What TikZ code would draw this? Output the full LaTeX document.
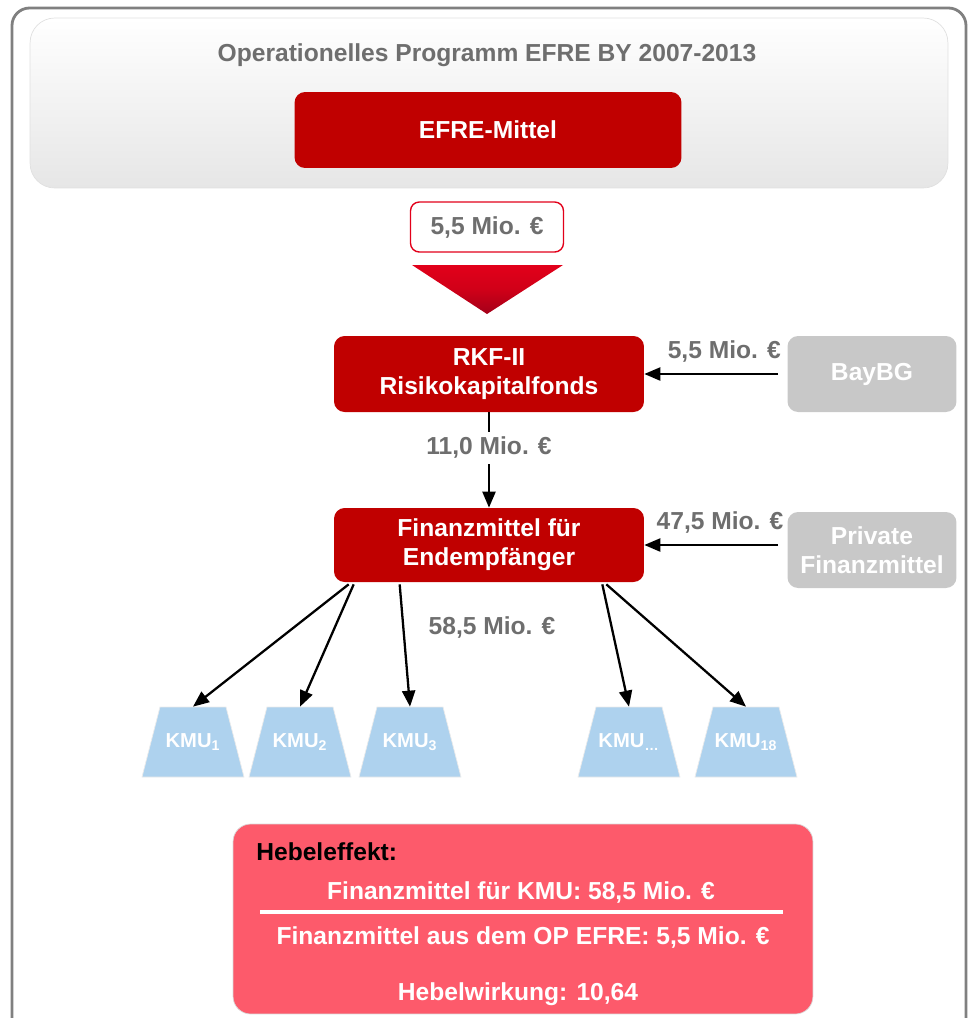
\documentclass[tikz,border=0pt]{standalone}
\usepackage{fontspec}
\setmainfont{Liberation Sans}
\usetikzlibrary{arrows.meta,calc,positioning}
\definecolor{efrered}{HTML}{C00000}
\definecolor{brightred}{HTML}{E2001A}
\definecolor{darkred}{HTML}{A30019}
\definecolor{txtgray}{HTML}{6E6E6E}
\definecolor{boxgray}{HTML}{C8C8C8}
\definecolor{framegray}{HTML}{808080}
\definecolor{panelgray}{HTML}{E6E6E6}
\definecolor{kmublue}{HTML}{AED2EE}
\definecolor{hebelred}{HTML}{FD5A6B}

\begin{document}
\begin{tikzpicture}[x=0.02cm,y=-0.02cm,
  bigfont/.style={font=\bfseries\fontsize{14}{16.5}\selectfont},
  redbox/.style={bigfont,fill=efrered,text=white,rounded corners=6pt,align=center,inner sep=0pt},
  graybox/.style={bigfont,fill=boxgray,text=white,rounded corners=6pt,align=center,inner sep=0pt},
  amount/.style={bigfont,text=txtgray,inner sep=1pt},
  kmushape/.style={fill=kmublue,draw=black!8},
  kmutext/.style={text=white,inner sep=0pt,font=\bfseries\fontsize{11.5}{13}\selectfont},
  arr/.style={-{Triangle[length=3.2mm,width=2.6mm]},line width=1.3pt},
  hebeltext/.style={font=\bfseries\fontsize{14}{16.5}\selectfont,text=white,inner sep=0pt}]
\useasboundingbox (0,0) rectangle (975,1018);
\clip (0,0) rectangle (975,1018);
\draw[framegray,line width=1.6pt,rounded corners=10pt] (12,8) rectangle (966,1060);

\node[top color=white,bottom color=panelgray,draw=black!12,rounded corners=14pt,
  minimum width=18.36cm,minimum height=3.4cm] (op) at (489,103) {};
\node[bigfont,text=txtgray] (optitle) at (487,55) {Operationelles Programm EFRE BY 2007-2013};
\node[redbox,minimum width=7.74cm,minimum height=1.52cm] (efre) at (488,130) {EFRE-Mittel};

\node[amount,draw=brightred,line width=0.8pt,fill=white,rounded corners=5pt,
  minimum width=3.06cm,minimum height=1cm] (efreamt) at (487,227) {5,5 Mio. €};
\shade[top color=brightred,bottom color=darkred,middle color=brightred!92!black]
  (412,265) -- (563,265) -- (487,314) -- cycle;

\node[redbox,minimum width=6.2cm,minimum height=1.52cm] (rkf) at (489,374) {RKF-II\\Risikokapitalfonds};
\node[graybox,minimum width=3.38cm,minimum height=1.52cm] (bay) at (872,374) {BayBG};
\node[redbox,minimum width=6.2cm,minimum height=1.48cm] (fin) at (489,545) {Finanzmittel für\\Endempfänger};
\node[graybox,minimum width=3.38cm,minimum height=1.52cm] (pri) at (872,550) {Private\\Finanzmittel};

\draw[arr,shorten <=0.18cm] (bay.west) -- node[amount,above=5pt,pos=0.44] (bayamt) {5,5 Mio. €} (rkf.east);
\draw[arr] (rkf.south) -- node[amount,fill=white,pos=0.37,inner ysep=3pt] (rkfamt) {11,0 Mio. €} (fin.north);
\draw[arr,shorten <=0.18cm] (pri.west |- fin.east) -- node[amount,above=5pt,pos=0.47] (priamt) {47,5 Mio. €} (fin.east);

\node[amount] (finamt) at (492,627) {58,5 Mio. €};

\foreach \n/\x/\s in {kmu1/193/1,kmu2/300/2,kmu3/410/3,kmux/629/{\ldots},kmu18/746/18}{
  \path[kmushape] (\x-51,777) -- (\x-33,707) -- (\x+33,707) -- (\x+51,777) -- cycle;
  \node[kmutext,minimum height=1.4cm] (\n) at (\x,742) {KMU\textsubscript{\s}};
}

\draw[arr] ($(fin.south west)+(15,2)$) -- (kmu1.north);
\draw[arr] ($(fin.south west)+(20,2)$) -- (kmu2.north);
\draw[arr] ($(fin.south west)+(66,2)$) -- (kmu3.north);
\draw[arr] ($(fin.south east)+(-42,2)$) -- (kmux.north);
\draw[arr] ($(fin.south east)+(-38,2)$) -- (kmu18.north);

\node[fill=hebelred,draw=black!15,rounded corners=10pt,minimum width=11.6cm,minimum height=3.8cm] (hebel) at (523,919) {};
\node[font=\bfseries\fontsize{14}{16.5}\selectfont,anchor=west,inner sep=0pt] (hebeltitle) at (256,852) {Hebeleffekt:};
\node[hebeltext] (kmusum) at (521,892) {Finanzmittel für KMU: 58,5 Mio. €};
\draw[white,line width=1.8pt] (260,912) -- (783,912);
\node[hebeltext] (opsum) at (523,937) {Finanzmittel aus dem OP EFRE: 5,5 Mio. €};
\node[hebeltext] (ratio) at (518,994) {Hebelwirkung: 10,64};
\end{tikzpicture}
\end{document}
